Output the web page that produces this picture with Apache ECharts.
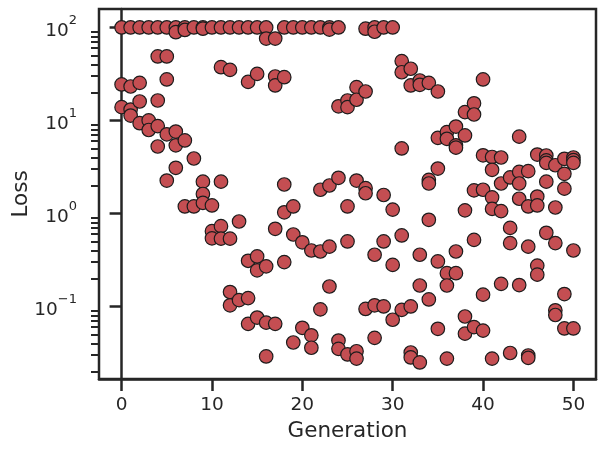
<!DOCTYPE html>
<html>
<head>
<meta charset="utf-8">
<script src="https://cdn.jsdelivr.net/npm/echarts@6/dist/echarts.min.js"></script>
<style>
  html, body { margin: 0; padding: 0; background: #ffffff; }
  #chart { width: 605px; height: 455px; }
</style>
</head>
<body>
<div id="chart"></div>
<script>
// ---- Data (loss values per generation) ----
const lossGen00to09 = [
  [100, 24.4, 13.9],
  [100, 23.2, 13.1, 11.3],
  [100, 25.4, 16, 9.35],
  [100, 10, 7.9],
  [100, 48.8, 16.4, 8.7, 5.25],
  [100, 48.8, 27.6, 7.1, 2.26],
  [100, 89, 7.6, 5.4, 3.1],
  [100, 94, 6.1, 1.19],
  [100, 3.9, 1.19],
  [100, 97, 2.2, 1.62, 1.3]
];
const lossGen10to19 = [
  [100, 1.22, 0.645, 0.54],
  [100, 37.4, 2.2, 0.73, 0.536],
  [100, 35, 0.536, 0.143, 0.103],
  [100, 0.82, 0.117],
  [100, 26, 0.31, 0.123, 0.065],
  [100, 31.7, 0.345, 0.245, 0.076],
  [100, 76, 0.27, 0.067, 0.029],
  [76, 29.7, 23.8, 0.684, 0.065],
  [100, 29.2, 2.05, 1.03, 0.3],
  [100, 1.19, 0.594, 0.041]
];
const lossGen20to29 = [
  [100, 0.49, 0.059],
  [100, 0.4, 0.049, 0.036],
  [100, 1.8, 0.39, 0.093],
  [100, 95, 2.0, 0.44, 0.164],
  [100, 14.2, 2.42, 0.043, 0.035],
  [16.4, 13.9, 1.19, 0.5, 0.0305],
  [22.8, 16.7, 2.26, 0.033, 0.0275],
  [97, 20.5, 1.87, 1.65, 0.094],
  [100, 90, 0.36, 0.103, 0.046],
  [100, 1.58, 0.5, 0.1]
];
const lossGen30to39 = [
  [100, 1.1, 0.28, 0.072],
  [43.5, 33, 5.0, 0.58, 0.092],
  [36, 23.8, 0.1, 0.032, 0.0283],
  [26.9, 24.2, 0.36, 0.168, 0.025],
  [25.4, 2.3, 2.1, 0.855, 0.119],
  [20.5, 6.5, 3.04, 0.305, 0.0575],
  [7.5, 6.35, 0.228, 0.168, 0.0275],
  [8.6, 5.4, 5.1, 0.39, 0.228],
  [12.3, 6.9, 1.08, 0.078, 0.051],
  [15.3, 11.6, 1.77, 0.52, 0.06]
];
const lossGen40to50 = [
  [27.6, 4.22, 1.8, 0.134, 0.055],
  [4.05, 2.95, 1.49, 1.12, 0.0275],
  [4.0, 2.1, 1.06, 0.175],
  [2.44, 0.7, 0.48, 0.0316],
  [6.7, 2.8, 2.1, 1.44, 0.17],
  [2.85, 1.19, 0.44, 0.0297, 0.028],
  [4.3, 1.52, 1.22, 0.275, 0.22],
  [4.2, 3.72, 3.5, 2.2, 0.62],
  [3.3, 1.16, 0.48, 0.091, 0.081],
  [3.87, 2.67, 1.85, 0.136, 0.058],
  [4.0, 3.75, 3.5, 0.4, 0.058]
];

const xTicks = [0, 10, 20, 30, 40, 50];
const yMajorTicks = [0.1, 1, 10, 100];
const yMinorMultipliers = [2, 3, 4, 5, 6, 7, 8, 9];
const xLabel = 'Generation';
const yLabel = 'Loss';

// ---- Build ----
const lossPerGeneration = [].concat(lossGen00to09, lossGen10to19, lossGen20to29, lossGen30to39, lossGen40to50);
const points = [];
lossPerGeneration.forEach((vals, gen) => vals.forEach(v => points.push([gen, v])));

const yMinor = [];
[0.01, 0.1, 1, 10, 100].forEach(d => yMinorMultipliers.forEach(m => yMinor.push(+(d * m).toPrecision(3))));

const X_MIN = -2.5, X_MAX = 52.5;
const Y_MIN = 0.0166, Y_MAX = 158;
const INK = '#262626';
const FONT = 'DejaVu Sans';

function supLabel(v) {
  const e = Math.round(Math.log10(v));
  const s = e < 0 ? '\u2212' + Math.abs(e) : String(e);
  return '{b|10}{s|' + s + '}';
}

const chart = echarts.init(document.getElementById('chart'), null, { renderer: 'canvas' });
chart.setOption({
  animation: false,
  backgroundColor: '#ffffff',
  grid: {
    left: 99, right: 9, top: 9, bottom: 76,
    show: true, borderColor: INK, borderWidth: 2.5, backgroundColor: 'transparent',
    containLabel: false, outerBoundsMode: 'none'
  },
  xAxis: {
    type: 'value', min: X_MIN, max: X_MAX,
    name: xLabel, nameLocation: 'middle', nameGap: 41, nameMoveOverlap: false,
    nameTextStyle: { fontFamily: FONT, fontSize: 21.5, color: INK },
    axisLine: { show: true, lineStyle: { color: INK, width: 2.5 } },
    axisTick: { show: true, length: 12, lineStyle: { color: INK, width: 2.5 }, customValues: xTicks },
    axisLabel: { show: true, margin: 17, fontFamily: FONT, fontSize: 18.5, color: INK, customValues: xTicks },
    splitLine: { show: false }
  },
  yAxis: [{
    type: 'log', logBase: 10, min: Y_MIN, max: Y_MAX,
    name: yLabel, nameLocation: 'middle', nameGap: 67, nameRotate: 90, nameMoveOverlap: false,
    nameTextStyle: { fontFamily: FONT, fontSize: 21.5, color: INK },
    axisLine: { show: true, lineStyle: { color: INK, width: 2.5 } },
    axisTick: { show: true, length: 12, lineStyle: { color: INK, width: 2.5 }, customValues: yMajorTicks },
    axisLabel: {
      show: true, margin: 22, customValues: yMajorTicks,
      formatter: supLabel,
      rich: {
        b: { fontFamily: FONT, fontSize: 18.5, color: INK, verticalAlign: 'bottom', lineHeight: 27 },
        s: { fontFamily: FONT, fontSize: 13, color: INK, verticalAlign: 'top', lineHeight: 27 }
      }
    },
    splitLine: { show: false }
  }, {
    type: 'log', logBase: 10, min: Y_MIN, max: Y_MAX, position: 'left',
    axisLine: { show: false },
    axisTick: { show: true, length: 8, lineStyle: { color: INK, width: 2 }, customValues: yMinor },
    axisLabel: { show: false },
    splitLine: { show: false }
  }],
  series: [{
    type: 'scatter',
    yAxisIndex: 0,
    data: points,
    symbol: 'circle',
    symbolSize: 13.5,
    itemStyle: { color: '#C44E52', borderColor: '#1c1c1c', borderWidth: 1.2, opacity: 1 },
    emphasis: { disabled: true }
  }]
});
</script>
</body>
</html>
